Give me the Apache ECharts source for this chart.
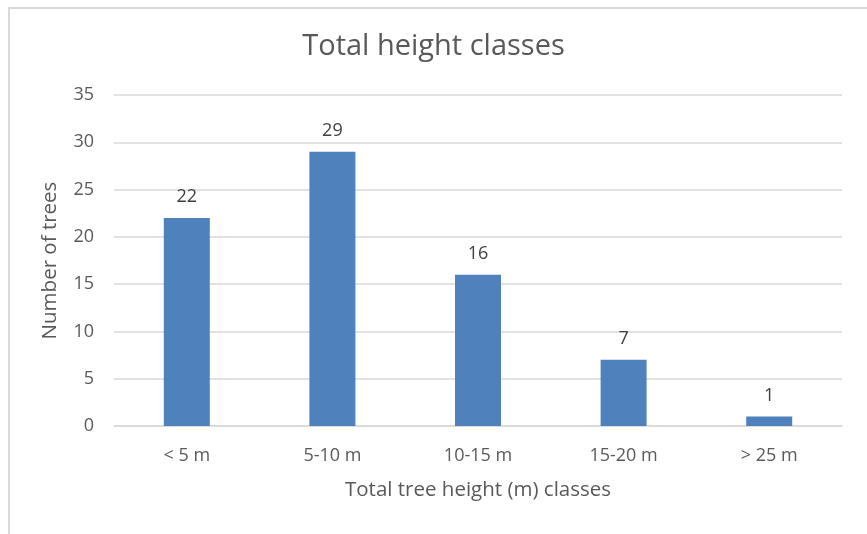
<!DOCTYPE html>
<html><head><meta charset="utf-8">
<script src="https://cdn.jsdelivr.net/npm/echarts@6/dist/echarts.min.js"></script>
<style>html,body{margin:0;padding:0;background:#fff}#c{width:867px;height:534px}</style>
</head><body><div id="c"></div>
<script>
const categories = ['< 5 m', '5-10 m', '10-15 m', '15-20 m', '> 25 m'];
const treeCounts = [22, 29, 16, 7, 1];
const yTicks = [0, 5, 10, 15, 20, 25, 30, 35];

const FONT = 'Open Sans';
const chart = echarts.init(document.getElementById('c'), null, {renderer: 'canvas'});
chart.setOption({
  backgroundColor: '#fff',
  animation: false,
  graphic: [{
    type: 'rect', shape: {x: 9, y: 8, width: 880, height: 560},
    style: {fill: 'none', stroke: '#d9d9d9', lineWidth: 2}, silent: true
  }],
  title: {
    text: 'Total height classes', left: 'center', top: 27,
    textStyle: {fontFamily: FONT, fontSize: 29, fontWeight: 'normal', color: '#595959'}
  },
  grid: {left: 114, right: 25, top: 95, bottom: 108},
  xAxis: {
    type: 'category', data: categories,
    name: 'Total tree height (m) classes', nameLocation: 'middle', nameGap: 54,
    nameTextStyle: {fontFamily: FONT, fontSize: 20.5, color: '#595959'},
    axisLine: {show: true, lineStyle: {color: '#d9d9d9', width: 1.5}},
    axisTick: {show: false},
    axisLabel: {fontFamily: FONT, fontSize: 18, color: '#595959', margin: 21}
  },
  yAxis: {
    type: 'value', min: yTicks[0], max: yTicks[yTicks.length - 1], interval: 5,
    name: 'Number of trees', nameLocation: 'middle', nameGap: 53, nameRotate: 90,
    nameTextStyle: {fontFamily: FONT, fontSize: 20.5, color: '#595959'},
    axisLine: {show: false}, axisTick: {show: false},
    axisLabel: {fontFamily: FONT, fontSize: 18, color: '#595959', margin: 20},
    splitLine: {lineStyle: {color: '#d9d9d9', width: 1.5}}
  },
  series: [{
    type: 'bar', data: treeCounts, barWidth: 46,
    itemStyle: {color: '#4f81bd'},
    label: {show: true, position: 'top', distance: 12, fontFamily: FONT, fontSize: 18, color: '#404040'}
  }]
});
</script></body></html>
